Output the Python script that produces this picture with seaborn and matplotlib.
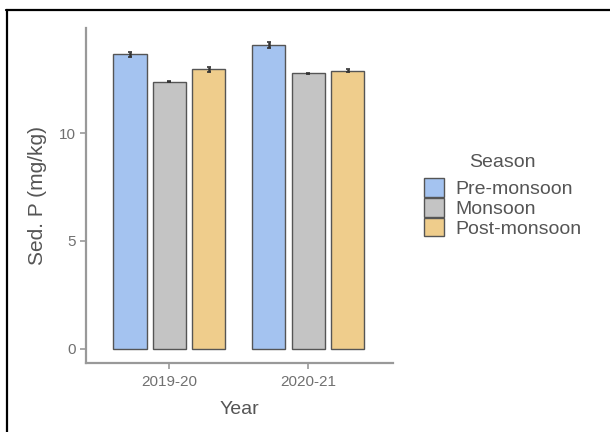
import matplotlib
matplotlib.use("Agg")
import matplotlib.pyplot as plt
import seaborn as sns
import pandas as pd
from matplotlib.lines import Line2D

years = ["2019-20", "2020-21"]
seasons = ["Pre-monsoon", "Monsoon", "Post-monsoon"]
# mean values per season (in years order)
pre_vals = [13.65, 14.08]
mon_vals = [12.38, 12.77]
post_vals = [12.96, 12.89]
# error (half-length) per season
pre_err = [0.13, 0.14]
mon_err = [0.03, 0.03]
post_err = [0.11, 0.06]
colors = ["#a4c3f0", "#c4c4c4", "#efcd8c"]

rows = []
for s, vals, errs in zip(seasons, [pre_vals, mon_vals, post_vals], [pre_err, mon_err, post_err]):
    for y, v, e in zip(years, vals, errs):
        rows.append({"Year": y, "Season": s, "P": v, "err": e})
df = pd.DataFrame(rows)

sns.set_theme(style="white")
plt.rcParams["font.family"] = ["Liberation Sans", "DejaVu Sans"]

fig = plt.figure(figsize=(6.1, 4.32), dpi=100)
ax = fig.add_axes([86 / 610, 1 - 363 / 432, (393 - 86) / 610, (363 - 28.3) / 432])

sns.barplot(data=df, x="Year", y="P", hue="Season", order=years, hue_order=seasons,
            palette=colors, width=0.85, gap=0.16, edgecolor="#555555", linewidth=1.0,
            errorbar=None, saturation=1, ax=ax)

# error bars placed at bar centres from the library's bars
for cont, s in zip(ax.containers, seasons):
    sub = df[df["Season"] == s].set_index("Year").loc[years]
    xs = [b.get_x() + b.get_width() / 2 for b in cont]
    ax.errorbar(xs, sub["P"].values, yerr=sub["err"].values, fmt="none",
                ecolor="#333333", elinewidth=1.8, capsize=1.5, capthick=1.2, zorder=5)

ax.set_xlim(-0.6, 1.61)
ax.set_ylim(-0.67, 14.86)
ax.set_yticks([0, 5, 10])
ax.set_xlabel("Year", fontsize=14, color="#555555", labelpad=8)
ax.set_ylabel("Sed. P (mg/kg)", fontsize=15, color="#555555", labelpad=8)
ax.tick_params(axis="both", labelsize=11, colors="#999999", labelcolor="#707070",
               length=4, width=1.2, left=True, bottom=True)
ax.tick_params(axis="x", pad=5)
for side in ["top", "right"]:
    ax.spines[side].set_visible(False)
for side in ["left", "bottom"]:
    ax.spines[side].set_color("#999999")
    ax.spines[side].set_linewidth(1.6)

leg = ax.legend(title="Season", loc="upper left", bbox_to_anchor=(424 / 610, 1 - 154 / 432),
                bbox_transform=fig.transFigure, frameon=False, fontsize=14,
                title_fontsize=14, handlelength=1.05, handleheight=1.1,
                labelspacing=0.0, handletextpad=0.55, borderpad=0, borderaxespad=0)
leg._legend_box.sep = 5
for t in leg.get_texts():
    t.set_color("#555555")
leg.get_title().set_color("#555555")

# outer frame (top and left lines)
fig.add_artist(Line2D([6 / 610, 1], [1 - 10 / 432, 1 - 10 / 432], transform=fig.transFigure,
                      color="black", linewidth=1.6))
fig.add_artist(Line2D([7 / 610, 7 / 610], [0, 1 - 10 / 432], transform=fig.transFigure,
                      color="black", linewidth=1.6))

fig.savefig("out.png", dpi=100)
